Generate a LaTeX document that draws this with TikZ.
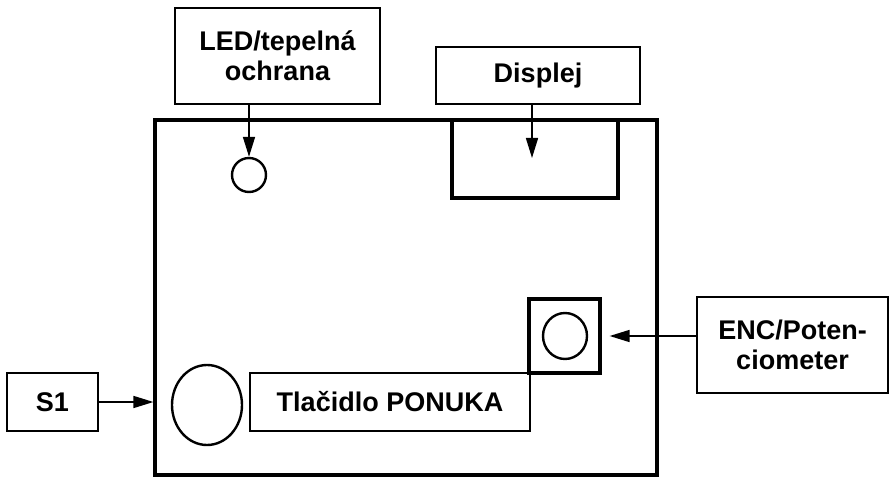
\documentclass[tikz,border=0pt]{standalone}
\usepackage{fontspec}
\setmainfont{Liberation Sans}
\usetikzlibrary{arrows.meta,shapes.geometric,positioning}

\begin{document}
\begin{tikzpicture}[x=1pt, y=-1pt,
    lbl/.style={draw, line width=1.4pt, align=center, inner sep=0pt, font=\fontsize{27}{30}\selectfont\bfseries},
    part/.style={draw, line width=3.2pt, inner sep=0pt},
    knob/.style={draw, ellipse, line width=2.4pt, inner sep=0pt},
    arr/.style={-{Triangle[length=20pt, width=12pt]}, line width=1.6pt}
]
\useasboundingbox (0,0) rectangle (893,478);

% board and its parts
\node[part, minimum width=502, minimum height=355] (board) at (406,297.5) {};
\node[part, minimum width=166, minimum height=78] (disp) at (535,159) {};
\node[part, minimum width=71, minimum height=74] (encsq) at (564.5,336) {};
\node[knob, minimum width=34, minimum height=34] (ledc) at (249,175) {};
\node[knob, minimum width=70, minimum height=80] (tlk) at (207,405) {};
\node[knob, minimum width=44, minimum height=46] (encc) at (565,336) {};

% labels
\node[lbl, minimum width=205, minimum height=96] (led) at (277.5,56) {LED/tepelná\\ochrana};
\node[lbl, minimum width=204, minimum height=57] (displej) at (538,75.5) {Displej};
\node[lbl, minimum width=91, minimum height=58] (s1) at (52.5,402) {S1};
\node[lbl, minimum width=280, minimum height=58] (tlac) at (390,402) {Tlačidlo PONUKA};
\node[lbl, minimum width=191, minimum height=96] (enc) at (792.5,345) {ENC/Poten-\\ciometer};

\coordinate (dtip) at (532,158);

\draw[arr] (ledc |- led.south) -- (ledc.north);
\draw[arr] (displej.south -| dtip) -- (dtip);
\draw[arr] (s1) -- (s1 -| board.west);
\draw[arr, shorten >=8pt] (enc.west |- encc) -- (encsq.east |- encc);
\end{tikzpicture}
\end{document}
